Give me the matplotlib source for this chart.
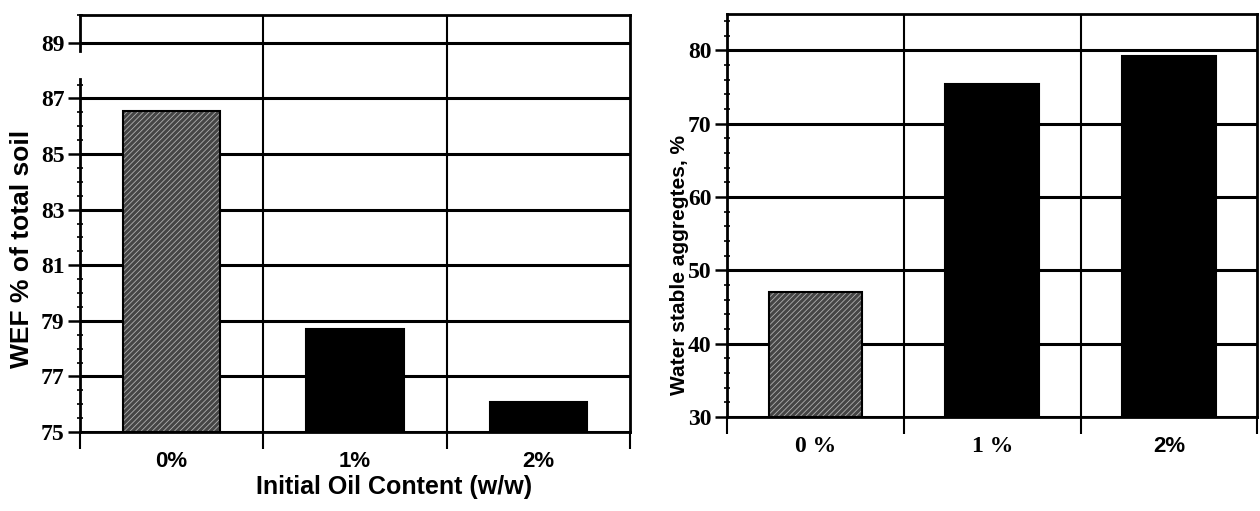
import matplotlib
matplotlib.use('Agg')
import matplotlib.pyplot as plt
import matplotlib.transforms as mtransforms
from matplotlib.ticker import FixedLocator, MultipleLocator

# Data
oil = ['0%', '1%', '2%']
oil_right = ['0 %', '1 %', '2%']
wef = [86.55, 78.7, 76.08]
wsa = [47.0, 75.4, 79.2]

plt.rcParams['hatch.linewidth'] = 0.6
serif = ['Liberation Serif', 'DejaVu Serif']
sans = ['Liberation Sans', 'DejaVu Sans']
narrow = ['Liberation Sans Narrow', 'Liberation Sans', 'DejaVu Sans']

fig = plt.figure(figsize=(12.6, 5.11), dpi=100)
ax1 = fig.add_axes([0.0635, 0.1546, 0.4365, 0.816])
ax2 = fig.add_axes([0.577, 0.184, 0.421, 0.789])

x = list(range(len(oil)))
bar_w = 0.53
gray_face = ['#454545', 'black', 'black']
hatch_col = ['#b0b0b0', 'black', 'black']


def draw_panel(ax, vals, labels, ymin, ymax, major, minor, label_font, label_size):
    # textured fill first, then black outline
    for i, v in enumerate(vals):
        ax.bar(x[i], v - ymin, bottom=ymin, width=bar_w, color=gray_face[i],
               edgecolor=hatch_col[i], hatch='//////' if i == 0 else None,
               linewidth=0, zorder=3)
    ax.bar(x, [v - ymin for v in vals], bottom=ymin, width=bar_w,
           fill=False, edgecolor='black', linewidth=1.5, zorder=4)
    ax.set_xlim(-0.5, len(vals) - 0.5)
    ax.set_ylim(ymin, ymax)
    ax.yaxis.set_major_locator(MultipleLocator(major))
    ax.yaxis.set_minor_locator(MultipleLocator(minor))
    ax.grid(axis='y', which='major', color='black', linewidth=2.2, zorder=1)
    for b in [i + 0.5 for i in x[:-1]]:
        ax.axvline(b, color='black', linewidth=1.5, zorder=1)
    # category boundary ticks, labels at centres
    ax.xaxis.set_major_locator(FixedLocator([i - 0.5 for i in x] + [x[-1] + 0.5]))
    ax.xaxis.set_major_formatter(plt.NullFormatter())
    ax.xaxis.set_minor_locator(FixedLocator(x))
    ax.set_xticklabels(labels, minor=True)
    ax.tick_params(axis='x', which='major', direction='out', length=12, width=1.5)
    ax.tick_params(axis='x', which='minor', length=0, pad=14)
    ax.tick_params(axis='y', which='major', direction='out', length=9, width=1.8, pad=2)
    ax.tick_params(axis='y', which='minor', direction='inout', length=5, width=1.2)
    for lab in ax.get_xticklabels(minor=True):
        lab.set_fontfamily(label_font)
        lab.set_fontweight('bold')
        lab.set_fontsize(label_size)
    for lab in ax.get_yticklabels():
        lab.set_fontfamily(serif)
        lab.set_fontweight('bold')
        lab.set_fontsize(17)
    for s in ax.spines.values():
        s.set_linewidth(2)
        s.set_color('black')
        s.set_zorder(5)


draw_panel(ax1, wef, oil, 75, 90, 2, 0.5, sans, 16)
ax1.yaxis.set_major_locator(FixedLocator([75, 77, 79, 81, 83, 85, 87, 89]))
ax1.yaxis.set_minor_locator(FixedLocator([75 + 0.5 * k for k in range(26)] + [90]))
for lab in ax1.get_yticklabels():
    lab.set_fontfamily(serif)
    lab.set_fontweight('bold')
    lab.set_fontsize(17)
# broken left spine as in the scan
ax1.spines['left'].set_bounds(75, 87.7)
trans = mtransforms.blended_transform_factory(ax1.transAxes, ax1.transData)
ax1.plot([0, 0], [88.7, 90], transform=trans, color='black', linewidth=2,
         clip_on=False, zorder=5)

draw_panel(ax2, wsa, oil_right, 30, 85, 10, 2, serif, 17)
lab2 = ax2.get_xticklabels(minor=True)[2]
lab2.set_fontfamily(sans)
lab2.set_fontsize(16)

ax1.set_ylabel('WEF % of total soil', fontsize=19, fontweight='bold',
               fontfamily=sans)
ax1.yaxis.set_label_coords(-0.083, 0.44)
ax2.set_ylabel('Water stable aggregtes, %', fontsize=15, fontweight='bold',
               fontfamily=sans)
ax2.yaxis.set_label_coords(-0.072, 0.377)

fig.text(0.313, 0.047, 'Initial Oil Content (w/w)', ha='center', va='center',
         fontsize=18, fontweight='bold', fontfamily=narrow)

fig.savefig('out.png', dpi=100)
plt.close(fig)
